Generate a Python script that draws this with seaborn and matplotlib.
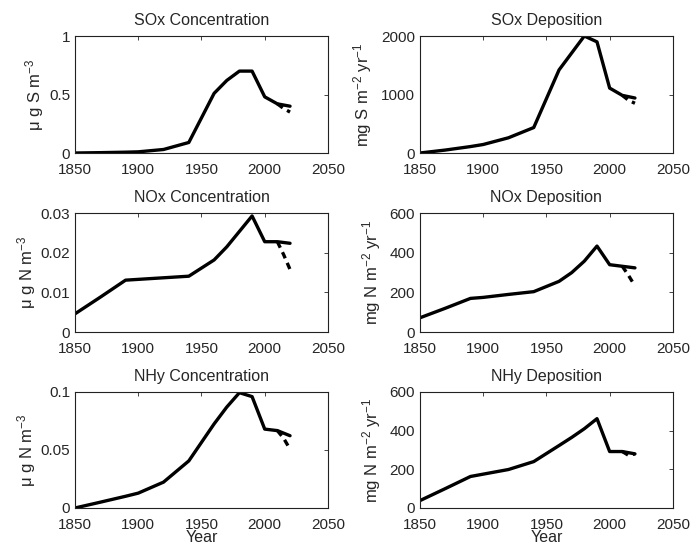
import numpy as np
import pandas as pd
import matplotlib
matplotlib.use("Agg")
import matplotlib.pyplot as plt
import seaborn as sns

sns.set_style("white")
plt.rcParams['font.family'] = ['Liberation Sans', 'DejaVu Sans']
plt.rcParams['mathtext.fontset'] = 'custom'
plt.rcParams['mathtext.rm'] = 'Liberation Sans'
plt.rcParams['mathtext.it'] = 'Liberation Sans:italic'

years = [1850, 1870, 1890, 1900, 1920, 1940, 1960, 1970, 1980, 1990, 2000, 2010, 2020]
scen_years = [2010, 2015, 2020]

sox_conc = [0.0, 0.003, 0.007, 0.01, 0.03, 0.09, 0.51, 0.62, 0.70, 0.70, 0.48, 0.42, 0.40]
sox_conc_scen = [0.42, 0.38, 0.35]
sox_dep = [0, 50, 110, 145, 260, 435, 1420, 1710, 2000, 1900, 1110, 985, 940]
sox_dep_scen = [985, 900, 850]
nox_conc = [0.0046, 0.0088, 0.0131, 0.0133, 0.0137, 0.0141, 0.0182, 0.0215, 0.0254, 0.0293, 0.0228, 0.0228, 0.0224]
nox_conc_scen = [0.0228, 0.0195, 0.0158]
nox_dep = [72, 120, 170, 175, 190, 204, 256, 300, 358, 434, 340, 332, 324]
nox_dep_scen = [332, 285, 233]
nhy_conc = [0.0, 0.005, 0.0101, 0.0128, 0.0223, 0.0406, 0.0725, 0.087, 0.0994, 0.096, 0.068, 0.0667, 0.0623]
nhy_conc_scen = [0.0667, 0.060, 0.0507]
nhy_dep = [38, 100, 163, 175, 199, 240, 323, 365, 410, 462, 292, 292, 280]
nhy_dep_scen = [292, 272, 280]

titles = ["SOx Concentration", "SOx Deposition", "NOx Concentration",
          "NOx Deposition", "NHy Concentration", "NHy Deposition"]
ylabels = ["μ g S m$^{-3}$", "mg S m$^{-2}$ yr$^{-1}$",
           "μ g N m$^{-3}$", "mg N m$^{-2}$ yr$^{-1}$",
           "μ g N m$^{-3}$", "mg N m$^{-2}$ yr$^{-1}$"]
series = [sox_conc, sox_dep, nox_conc, nox_dep, nhy_conc, nhy_dep]
scen = [sox_conc_scen, sox_dep_scen, nox_conc_scen, nox_dep_scen, nhy_conc_scen, nhy_dep_scen]
ylims = [(0, 1), (0, 2000), (0, 0.03), (0, 600), (0, 0.1), (0, 600)]
yticks = [[0, 0.5, 1], [0, 1000, 2000], [0, 0.01, 0.02, 0.03],
          [0, 200, 400, 600], [0, 0.05, 0.1], [0, 200, 400, 600]]
yticklabels = [["0", "0.5", "1"], ["0", "1000", "2000"], ["0", "0.01", "0.02", "0.03"],
               ["0", "200", "400", "600"], ["0", "0.05", "0.1"], ["0", "200", "400", "600"]]
xticks = [1850, 1900, 1950, 2000, 2050]

fig = plt.figure(figsize=(6.94, 5.48), dpi=100)
lefts = [0.108, 0.605]
bottoms = [0.7208, 0.394, 0.073]
heights = [0.2135, 0.217, 0.2117]
width = 0.3646

for i in range(6):
    r, c = divmod(i, 2)
    ax = fig.add_axes([lefts[c], bottoms[r], width, heights[r]])
    df = pd.DataFrame({"Year": years, "val": series[i]})
    ds = pd.DataFrame({"Year": scen_years, "val": scen[i]})
    sns.lineplot(data=df, x="Year", y="val", ax=ax, color="black", linewidth=2.4)
    sns.lineplot(data=ds, x="Year", y="val", ax=ax, color="black", linewidth=2.4,
                 linestyle=(0, (2.0, 1.5)))
    ax.set_xlim(1850, 2050)
    ax.set_ylim(*ylims[i])
    ax.set_xticks(xticks)
    ax.set_xticklabels([str(x) for x in xticks], fontsize=11)
    ax.set_yticks(yticks[i])
    ax.set_yticklabels(yticklabels[i], fontsize=11)
    ax.set_title(titles[i], fontsize=11.5, pad=8)
    ax.set_ylabel(ylabels[i], fontsize=12, labelpad=(2 if c == 0 else 5))
    ax.set_xlabel("Year" if r == 2 else "", fontsize=11.5, labelpad=-1)
    ax.tick_params(axis="x", direction="in", length=3, width=0.6, top=True, pad=7)
    ax.tick_params(axis="y", direction="in", length=3, width=0.6, right=True, pad=3.5)
    for s in ax.spines.values():
        s.set_visible(True)
        s.set_color("#222222")
        s.set_linewidth(0.8)

fig.savefig("out.png", dpi=100, facecolor="white")
